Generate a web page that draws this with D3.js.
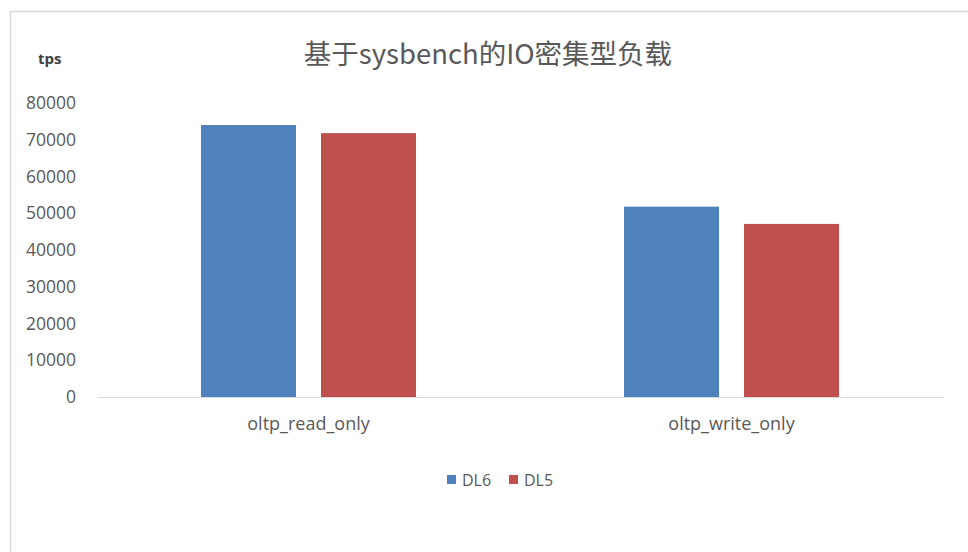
<!DOCTYPE html>
<html><head><meta charset="utf-8">
<script src="https://cdn.jsdelivr.net/npm/d3@7/dist/d3.min.js"></script>
<style>body{margin:0;background:#fff;}svg{display:block;}</style>
</head><body>
<svg id="chart" width="968" height="552"></svg>
<script>
const categories = ["oltp_read_only", "oltp_write_only"];
const seriesNames = ["DL6", "DL5"];
const DL6 = [74000, 51800];
const DL5 = [71800, 47100];
const yTicks = [0, 10000, 20000, 30000, 40000, 50000, 60000, 70000, 80000];
const colors = ["#4F81BD", "#C0504D"];
const values = [DL6, DL5];

(function () {
const svg = d3.select("#chart");
svg.append("rect").attr("x", 10.5).attr("y", 11.5).attr("width", 1000).attr("height", 600)
  .attr("fill", "#fff").attr("stroke", "#d9d9d9").attr("stroke-width", 1.5);

const pLeft = 97, pRight = 943, pTop = 103, pBottom = 397;
const y = d3.scaleLinear().domain([0, 80000]).range([pBottom, pTop]);
const x0 = d3.scaleBand().domain(categories).range([pLeft, pRight]).padding(0);
const groupW = 215;
const x1 = d3.scaleBand().domain(seriesNames)
  .range([(x0.bandwidth() - groupW) / 2, (x0.bandwidth() + groupW) / 2])
  .paddingInner(0.2083).paddingOuter(0);

svg.append("text").attr("x", 488).attr("y", 64).attr("text-anchor", "middle")
  .attr("font-family", "'Noto Sans CJK SC', 'Open Sans', sans-serif").attr("font-size", 27.5)
  .attr("fill", "#595959").text("基于sysbench的IO密集型负载");

svg.append("text").attr("x", 38).attr("y", 64)
  .attr("font-family", "'Open Sans', sans-serif").attr("font-size", 15).attr("font-weight", "bold")
  .attr("fill", "#404040").text("tps");

const yAxis = d3.axisLeft(y).tickValues(yTicks).tickSize(0).tickPadding(0).tickFormat(d3.format("d"));
const ya = svg.append("g").attr("transform", "translate(76,0)").call(yAxis);
ya.select(".domain").remove();
ya.selectAll("text").attr("font-family", "'Open Sans', sans-serif").attr("font-size", 17.5)
  .attr("fill", "#595959");

const groups = svg.append("g").selectAll("g").data(categories).join("g")
  .attr("transform", d => `translate(${x0(d)},0)`);
groups.selectAll("rect").data((c, i) => seriesNames.map((s, j) => ({s, v: values[j][i], j})))
  .join("rect")
  .attr("x", d => x1(d.s)).attr("width", x1.bandwidth())
  .attr("y", d => y(d.v)).attr("height", d => y(0) - y(d.v))
  .attr("fill", d => colors[d.j]);

const xAxis = d3.axisBottom(x0).tickSize(0).tickPadding(20);
const xa = svg.append("g").attr("transform", `translate(0,${pBottom})`).call(xAxis);
xa.select(".domain").attr("stroke", "#d9d9d9").attr("stroke-width", 1.2);
xa.selectAll("text").attr("font-family", "'Open Sans', sans-serif").attr("font-size", 18)
  .attr("fill", "#595959");

const legendX = [447, 509];
const lg = svg.append("g").selectAll("g").data(seriesNames).join("g")
  .attr("transform", (d, i) => `translate(${legendX[i]},475)`);
lg.append("rect").attr("width", 9).attr("height", 9).attr("fill", (d, i) => colors[i]);
lg.append("text").attr("x", 15).attr("y", 10.5)
  .attr("font-family", "'Open Sans', sans-serif").attr("font-size", 16)
  .attr("fill", "#595959").text(d => d);
})();
</script>
</body></html>
